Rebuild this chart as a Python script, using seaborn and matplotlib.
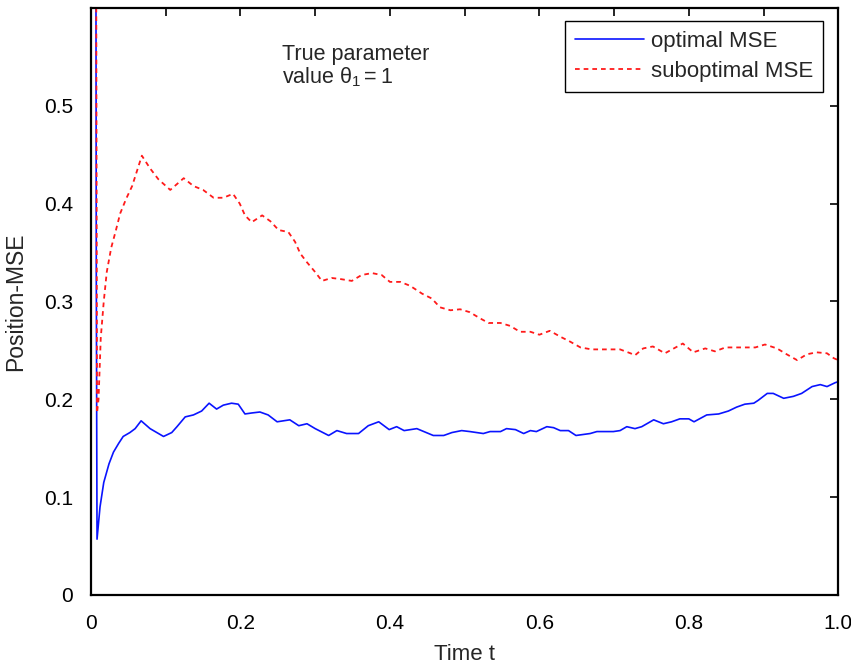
import numpy as np
import pandas as pd
import matplotlib
matplotlib.use("Agg")
import matplotlib.pyplot as plt
import seaborn as sns

# Time grid and position-MSE values for the two estimators
t_opt = [0.006, 0.007, 0.008, 0.012, 0.017, 0.024, 0.030, 0.037, 0.043, 0.052, 0.059, 0.067,
         0.079, 0.097, 0.108, 0.115, 0.126, 0.137, 0.148, 0.158, 0.168, 0.177, 0.188, 0.197,
         0.206, 0.215, 0.226, 0.237, 0.249, 0.266, 0.278, 0.289, 0.300, 0.318, 0.329, 0.342,
         0.358, 0.371, 0.385, 0.399, 0.409, 0.419, 0.436, 0.458, 0.472, 0.483, 0.496, 0.507,
         0.525, 0.534, 0.548, 0.556, 0.568, 0.579, 0.588, 0.596, 0.610, 0.619, 0.628, 0.639,
         0.649, 0.668, 0.677, 0.699, 0.708, 0.717, 0.728, 0.737, 0.753, 0.766, 0.777, 0.788,
         0.800, 0.807, 0.824, 0.840, 0.853, 0.864, 0.875, 0.887, 0.893, 0.905, 0.913, 0.927,
         0.940, 0.951, 0.965, 0.976, 0.985, 0.996, 1.000]
mse_opt = [1.000, 0.327, 0.057, 0.090, 0.115, 0.134, 0.146, 0.155, 0.162, 0.166, 0.170, 0.178,
           0.170, 0.162, 0.166, 0.172, 0.182, 0.184, 0.188, 0.196, 0.190, 0.194, 0.196, 0.195,
           0.185, 0.186, 0.187, 0.184, 0.177, 0.179, 0.173, 0.175, 0.170, 0.163, 0.168, 0.165,
           0.165, 0.173, 0.177, 0.169, 0.172, 0.168, 0.170, 0.163, 0.163, 0.166, 0.168, 0.167,
           0.165, 0.167, 0.167, 0.170, 0.169, 0.165, 0.168, 0.167, 0.172, 0.171, 0.168, 0.168,
           0.163, 0.165, 0.167, 0.167, 0.168, 0.172, 0.170, 0.172, 0.179, 0.175, 0.177, 0.180,
           0.180, 0.177, 0.184, 0.185, 0.188, 0.192, 0.195, 0.196, 0.199, 0.206, 0.206, 0.201,
           0.203, 0.206, 0.213, 0.215, 0.213, 0.217, 0.218]

t_sub = [0.006, 0.008, 0.010, 0.013, 0.017, 0.021, 0.027, 0.033, 0.039, 0.047, 0.055, 0.068,
         0.079, 0.090, 0.106, 0.115, 0.124, 0.137, 0.150, 0.164, 0.177, 0.190, 0.199, 0.206,
         0.215, 0.229, 0.240, 0.251, 0.264, 0.273, 0.280, 0.289, 0.300, 0.309, 0.322, 0.333,
         0.349, 0.362, 0.376, 0.389, 0.400, 0.414, 0.427, 0.443, 0.456, 0.467, 0.481, 0.494,
         0.507, 0.520, 0.532, 0.548, 0.561, 0.574, 0.588, 0.600, 0.614, 0.628, 0.641, 0.655,
         0.670, 0.690, 0.708, 0.722, 0.728, 0.739, 0.752, 0.768, 0.780, 0.792, 0.806, 0.822,
         0.835, 0.849, 0.876, 0.889, 0.902, 0.918, 0.931, 0.945, 0.958, 0.971, 0.985, 0.994,
         1.000]
mse_sub = [1.000, 0.186, 0.200, 0.263, 0.300, 0.330, 0.355, 0.372, 0.390, 0.405, 0.418, 0.449,
           0.436, 0.425, 0.414, 0.420, 0.426, 0.418, 0.414, 0.406, 0.406, 0.410, 0.400, 0.388,
           0.381, 0.388, 0.382, 0.373, 0.371, 0.361, 0.349, 0.340, 0.330, 0.321, 0.324, 0.323,
           0.321, 0.327, 0.329, 0.327, 0.320, 0.320, 0.316, 0.308, 0.303, 0.294, 0.291, 0.292,
           0.289, 0.283, 0.278, 0.278, 0.275, 0.269, 0.269, 0.266, 0.270, 0.264, 0.259, 0.253,
           0.251, 0.251, 0.251, 0.247, 0.245, 0.252, 0.254, 0.247, 0.252, 0.257, 0.248, 0.252,
           0.249, 0.253, 0.253, 0.253, 0.256, 0.252, 0.246, 0.240, 0.246, 0.248, 0.247, 0.242,
           0.240]

x_ticks = [0, 0.1, 0.2, 0.3, 0.4, 0.5, 0.6, 0.7, 0.8, 0.9, 1.0]
x_ticklabels = ["0", "", "0.2", "", "0.4", "", "0.6", "", "0.8", "", "1.0"]
y_ticks = [0, 0.1, 0.2, 0.3, 0.4, 0.5, 0.6]
y_ticklabels = ["0", "0.1", "0.2", "0.3", "0.4", "0.5", ""]

sns.set_style("white")
plt.rcParams["font.family"] = ["Liberation Sans", "DejaVu Sans"]
plt.rcParams["mathtext.fontset"] = "custom"
plt.rcParams["mathtext.rm"] = "Liberation Sans"
plt.rcParams["mathtext.it"] = "Liberation Sans"
plt.rcParams["mathtext.bf"] = "Liberation Sans:bold"

df_opt = pd.DataFrame({"t": t_opt, "mse": mse_opt})
df_sub = pd.DataFrame({"t": t_sub, "mse": mse_sub})

fig = plt.figure(figsize=(8.51, 6.64), dpi=100)
ax = fig.add_axes([0.107, 0.104, 0.878, 0.884])

sns.lineplot(data=df_opt, x="t", y="mse", ax=ax, color="#0a14ff", linewidth=1.2,
             estimator=None, sort=False, label="optimal MSE")
sns.lineplot(data=df_sub, x="t", y="mse", ax=ax, color="#ff1a1a", linewidth=1.3,
             estimator=None, sort=False, label="suboptimal MSE", dashes=False)
ax.lines[1].set_dashes([2.6, 2.2])

ax.set_xlim(0, 1.0)
ax.set_ylim(0, 0.6)
ax.set_xticks(x_ticks)
ax.set_xticklabels(x_ticklabels)
ax.set_yticks(y_ticks)
ax.set_yticklabels(y_ticklabels)
ax.tick_params(direction="in", length=6, width=1.2, top=True, right=True,
               labelsize=15, colors="black")
ax.tick_params(axis="x", pad=14)
ax.tick_params(axis="y", pad=13)
for sp in ax.spines.values():
    sp.set_visible(True)
    sp.set_color("black")
    sp.set_linewidth(1.6)

ax.set_xlabel("Time t", fontsize=16)
ax.set_ylabel("Position-MSE", fontsize=16.5)
ax.xaxis.set_label_coords(0.5, -0.084)
ax.yaxis.set_label_coords(-0.086, 0.5)

# Annotation with the true parameter value, two tightly spaced lines
ax.text(0.2557, 0.911, "True parameter", transform=ax.transAxes,
        fontsize=15.5, va="baseline", ha="left")
ax.text(0.2557, 0.872, "value $\\theta_1 = 1$", transform=ax.transAxes,
        fontsize=15.5, va="baseline", ha="left")

leg = ax.legend(loc="upper right", bbox_to_anchor=(0.98, 0.978), fontsize=16,
                frameon=True, fancybox=False, edgecolor="black", framealpha=1,
                handlelength=3.1, handletextpad=0.32, labelspacing=0.4,
                borderpad=0.45, borderaxespad=0)
leg.get_frame().set_linewidth(1.0)
leg.get_lines()[1].set_dashes([2.6, 2.2])

fig.savefig("out.png", dpi=100)
